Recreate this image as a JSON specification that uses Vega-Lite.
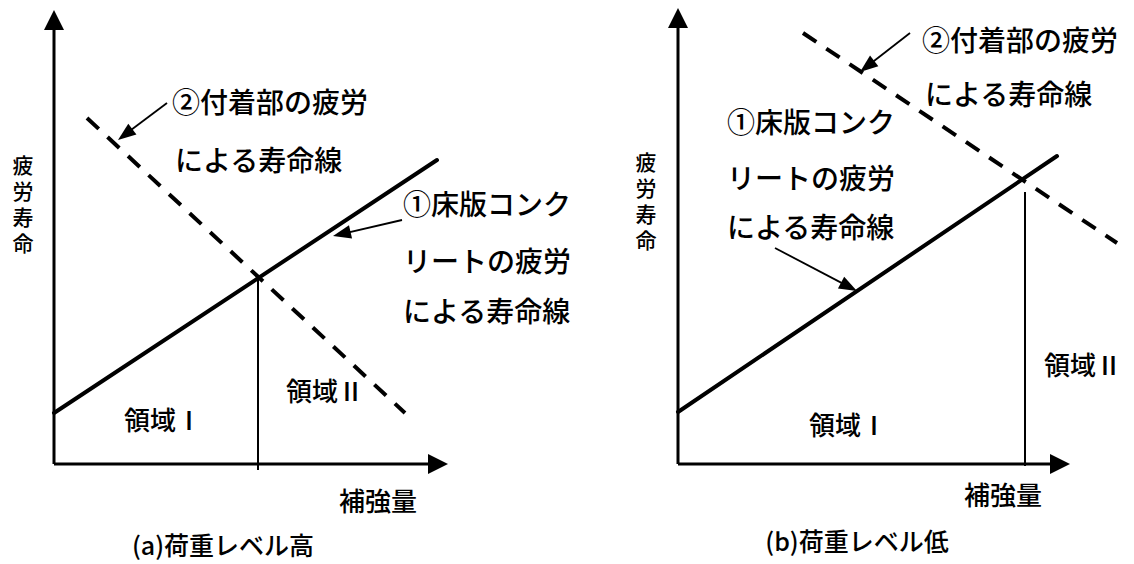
{
  "$schema": "https://vega.github.io/schema/vega-lite/v6.json",
  "background": "white",
  "padding": 0,
  "spacing": 0,
  "bounds": "flush",
  "config": {"view": {"stroke": null}, "concat": {"spacing": 0}, "text": {"font": "Noto Sans CJK JP", "fontWeight": 500}},
  "datasets": {
    "segments": [
      {"panel": "a", "kind": "axis", "x": 0, "y": 0, "x2": 0, "y2": 11.0},
      {"panel": "a", "kind": "axis", "x": 0, "y": 0, "x2": 9.5, "y2": 0},
      {"panel": "a", "kind": "solid", "x": 0, "y": 1.275, "x2": 9.575, "y2": 7.6},
      {"panel": "a", "kind": "dashed", "x": 0.825, "y": 8.65, "x2": 8.775, "y2": 1.275},
      {"panel": "a", "kind": "vline", "x": 5.1, "y": 4.66, "x2": 5.1, "y2": -0.15},
      {"panel": "a", "kind": "pointer", "x": 2.825, "y": 9.025, "x2": 1.7, "y2": 8.18},
      {"panel": "a", "kind": "pointer", "x": 8.7, "y": 6.1, "x2": 7.1, "y2": 5.73},
      {"panel": "b", "kind": "axis", "x": 0, "y": 0, "x2": 0, "y2": 11.0},
      {"panel": "b", "kind": "axis", "x": 0, "y": 0, "x2": 9.45, "y2": 0},
      {"panel": "b", "kind": "solid", "x": 0, "y": 1.3, "x2": 9.475, "y2": 7.7},
      {"panel": "b", "kind": "dashed", "x": 3.125, "y": 10.775, "x2": 10.975, "y2": 5.525},
      {"panel": "b", "kind": "vline", "x": 8.675, "y": 6.8, "x2": 8.675, "y2": -0.05},
      {"panel": "b", "kind": "pointer", "x": 5.8, "y": 10.775, "x2": 4.65, "y2": 9.88},
      {"panel": "b", "kind": "pointer", "x": 2.425, "y": 5.4, "x2": 4.35, "y2": 4.39}
    ],
    "heads": [
      {"panel": "a", "kind": "axis", "x": 0, "y": 11.35, "angle": 0},
      {"panel": "a", "kind": "axis", "x": 9.85, "y": 0, "angle": 90},
      {"panel": "a", "kind": "pointer", "x": 1.6, "y": 8.1, "angle": 232.9},
      {"panel": "a", "kind": "pointer", "x": 6.975, "y": 5.7, "angle": 256.9},
      {"panel": "b", "kind": "axis", "x": 0, "y": 11.4, "angle": 0},
      {"panel": "b", "kind": "axis", "x": 9.8, "y": 0, "angle": 90},
      {"panel": "b", "kind": "pointer", "x": 4.55, "y": 9.8, "angle": 232},
      {"panel": "b", "kind": "pointer", "x": 4.475, "y": 4.325, "angle": 117.7}
    ],
    "labels": [
      {"panel": "a", "kind": "note", "x": 2.95, "y": 8.975, "text": "②付着部の疲労"},
      {"panel": "a", "kind": "note", "x": 3.025, "y": 7.525, "text": "による寿命線"},
      {"panel": "a", "kind": "note", "x": 8.725, "y": 6.425, "text": "①床版コンク"},
      {"panel": "a", "kind": "note", "x": 8.725, "y": 5.0, "text": "リートの疲労"},
      {"panel": "a", "kind": "note", "x": 8.725, "y": 3.75, "text": "による寿命線"},
      {"panel": "a", "kind": "center", "x": 2.725, "y": 1.05, "text": "領域Ⅰ"},
      {"panel": "a", "kind": "center", "x": 6.775, "y": 1.775, "text": "領域Ⅱ"},
      {"panel": "a", "kind": "center", "x": 8.1, "y": -0.975, "text": "補強量"},
      {"panel": "a", "kind": "caption", "x": 4.225, "y": -2.075, "text": "(a)荷重レベル高"},
      {"panel": "a", "kind": "ylabel", "x": -0.775, "y": 7.42, "text": "疲\n労\n寿\n命"},
      {"panel": "b", "kind": "note", "x": 6.1, "y": 10.525, "text": "②付着部の疲労"},
      {"panel": "b", "kind": "note", "x": 6.175, "y": 9.175, "text": "による寿命線"},
      {"panel": "b", "kind": "note", "x": 1.225, "y": 8.475, "text": "①床版コンク"},
      {"panel": "b", "kind": "note", "x": 1.225, "y": 7.075, "text": "リートの疲労"},
      {"panel": "b", "kind": "note", "x": 1.225, "y": 5.85, "text": "による寿命線"},
      {"panel": "b", "kind": "center", "x": 10.125, "y": 2.425, "text": "領域Ⅱ"},
      {"panel": "b", "kind": "center", "x": 4.25, "y": 0.925, "text": "領域Ⅰ"},
      {"panel": "b", "kind": "center", "x": 8.125, "y": -0.825, "text": "補強量"},
      {"panel": "b", "kind": "caption", "x": 4.475, "y": -1.975, "text": "(b)荷重レベル低"},
      {"panel": "b", "kind": "ylabel", "x": -0.8, "y": 7.5, "text": "疲\n労\n寿\n命"}
    ]
  },
  "hconcat": [
    {
      "width": 567,
      "height": 564,
      "encoding": {
        "x": {"field": "x", "type": "quantitative", "scale": {"domain": [-1.35, 12.825], "nice": false, "zero": false}, "axis": null},
        "y": {"field": "y", "type": "quantitative", "scale": {"domain": [-2.5, 11.6], "nice": false, "zero": false}, "axis": null}
      },
      "layer": [
        {"data": {"name": "segments"}, "transform": [{"filter": "datum.panel === 'a' && datum.kind === 'axis'"}],
         "mark": {"type": "rule", "color": "black", "strokeWidth": 3},
         "encoding": {"x2": {"field": "x2"}, "y2": {"field": "y2"}}},
        {"data": {"name": "segments"}, "transform": [{"filter": "datum.panel === 'a' && datum.kind === 'solid'"}],
         "mark": {"type": "rule", "color": "black", "strokeWidth": 4, "strokeCap": "round"},
         "encoding": {"x2": {"field": "x2"}, "y2": {"field": "y2"}}},
        {"data": {"name": "segments"}, "transform": [{"filter": "datum.panel === 'a' && datum.kind === 'dashed'"}],
         "mark": {"type": "rule", "color": "black", "strokeWidth": 4, "strokeDash": [16, 12], "strokeCap": "butt"},
         "encoding": {"x2": {"field": "x2"}, "y2": {"field": "y2"}}},
        {"data": {"name": "segments"}, "transform": [{"filter": "datum.panel === 'a' && datum.kind === 'vline'"}],
         "mark": {"type": "rule", "color": "black", "strokeWidth": 2},
         "encoding": {"x2": {"field": "x2"}, "y2": {"field": "y2"}}},
        {"data": {"name": "segments"}, "transform": [{"filter": "datum.panel === 'a' && datum.kind === 'pointer'"}],
         "mark": {"type": "rule", "color": "black", "strokeWidth": 1.8},
         "encoding": {"x2": {"field": "x2"}, "y2": {"field": "y2"}}},
        {"data": {"name": "heads"}, "transform": [{"filter": "datum.panel === 'a' && datum.kind === 'axis'"}],
         "mark": {"type": "point", "shape": "M0,0L1,2L-1,2Z", "size": 400, "filled": true, "color": "black", "opacity": 1},
         "encoding": {"angle": {"field": "angle", "type": "quantitative", "scale": null}}},
        {"data": {"name": "heads"}, "transform": [{"filter": "datum.panel === 'a' && datum.kind === 'pointer'"}],
         "mark": {"type": "point", "shape": "M0,0L0.75,2L-0.75,2Z", "size": 324, "filled": true, "color": "black", "opacity": 1},
         "encoding": {"angle": {"field": "angle", "type": "quantitative", "scale": null}}},
        {"data": {"name": "labels"}, "transform": [{"filter": "datum.panel === 'a' && datum.kind === 'note'"}],
         "mark": {"type": "text", "align": "left", "baseline": "middle", "fontSize": 28, "color": "black"},
         "encoding": {"text": {"field": "text"}}},
        {"data": {"name": "labels"}, "transform": [{"filter": "datum.panel === 'a' && datum.kind === 'center'"}],
         "mark": {"type": "text", "align": "center", "baseline": "middle", "fontSize": 26, "color": "black"},
         "encoding": {"text": {"field": "text"}}},
        {"data": {"name": "labels"}, "transform": [{"filter": "datum.panel === 'a' && datum.kind === 'caption'"}],
         "mark": {"type": "text", "align": "center", "baseline": "middle", "fontSize": 25, "color": "black"},
         "encoding": {"text": {"field": "text"}}},
        {"data": {"name": "labels"}, "transform": [{"filter": "datum.panel === 'a' && datum.kind === 'ylabel'"}],
         "mark": {"type": "text", "align": "center", "baseline": "middle", "fontSize": 21, "lineHeight": 26, "lineBreak": "\n", "color": "black"},
         "encoding": {"text": {"field": "text"}}}
      ]
    },
    {
      "width": 567,
      "height": 564,
      "encoding": {
        "x": {"field": "x", "type": "quantitative", "scale": {"domain": [-2.775, 11.4], "nice": false, "zero": false}, "axis": null},
        "y": {"field": "y", "type": "quantitative", "scale": {"domain": [-2.5, 11.6], "nice": false, "zero": false}, "axis": null}
      },
      "layer": [
        {"data": {"name": "segments"}, "transform": [{"filter": "datum.panel === 'b' && datum.kind === 'axis'"}],
         "mark": {"type": "rule", "color": "black", "strokeWidth": 3},
         "encoding": {"x2": {"field": "x2"}, "y2": {"field": "y2"}}},
        {"data": {"name": "segments"}, "transform": [{"filter": "datum.panel === 'b' && datum.kind === 'solid'"}],
         "mark": {"type": "rule", "color": "black", "strokeWidth": 4, "strokeCap": "round"},
         "encoding": {"x2": {"field": "x2"}, "y2": {"field": "y2"}}},
        {"data": {"name": "segments"}, "transform": [{"filter": "datum.panel === 'b' && datum.kind === 'dashed'"}],
         "mark": {"type": "rule", "color": "black", "strokeWidth": 4, "strokeDash": [16, 12], "strokeCap": "butt"},
         "encoding": {"x2": {"field": "x2"}, "y2": {"field": "y2"}}},
        {"data": {"name": "segments"}, "transform": [{"filter": "datum.panel === 'b' && datum.kind === 'vline'"}],
         "mark": {"type": "rule", "color": "black", "strokeWidth": 2},
         "encoding": {"x2": {"field": "x2"}, "y2": {"field": "y2"}}},
        {"data": {"name": "segments"}, "transform": [{"filter": "datum.panel === 'b' && datum.kind === 'pointer'"}],
         "mark": {"type": "rule", "color": "black", "strokeWidth": 1.8},
         "encoding": {"x2": {"field": "x2"}, "y2": {"field": "y2"}}},
        {"data": {"name": "heads"}, "transform": [{"filter": "datum.panel === 'b' && datum.kind === 'axis'"}],
         "mark": {"type": "point", "shape": "M0,0L1,2L-1,2Z", "size": 400, "filled": true, "color": "black", "opacity": 1},
         "encoding": {"angle": {"field": "angle", "type": "quantitative", "scale": null}}},
        {"data": {"name": "heads"}, "transform": [{"filter": "datum.panel === 'b' && datum.kind === 'pointer'"}],
         "mark": {"type": "point", "shape": "M0,0L0.75,2L-0.75,2Z", "size": 324, "filled": true, "color": "black", "opacity": 1},
         "encoding": {"angle": {"field": "angle", "type": "quantitative", "scale": null}}},
        {"data": {"name": "labels"}, "transform": [{"filter": "datum.panel === 'b' && datum.kind === 'note'"}],
         "mark": {"type": "text", "align": "left", "baseline": "middle", "fontSize": 28, "color": "black"},
         "encoding": {"text": {"field": "text"}}},
        {"data": {"name": "labels"}, "transform": [{"filter": "datum.panel === 'b' && datum.kind === 'center'"}],
         "mark": {"type": "text", "align": "center", "baseline": "middle", "fontSize": 26, "color": "black"},
         "encoding": {"text": {"field": "text"}}},
        {"data": {"name": "labels"}, "transform": [{"filter": "datum.panel === 'b' && datum.kind === 'caption'"}],
         "mark": {"type": "text", "align": "center", "baseline": "middle", "fontSize": 25, "color": "black"},
         "encoding": {"text": {"field": "text"}}},
        {"data": {"name": "labels"}, "transform": [{"filter": "datum.panel === 'b' && datum.kind === 'ylabel'"}],
         "mark": {"type": "text", "align": "center", "baseline": "middle", "fontSize": 21, "lineHeight": 26, "lineBreak": "\n", "color": "black"},
         "encoding": {"text": {"field": "text"}}}
      ]
    }
  ]
}
